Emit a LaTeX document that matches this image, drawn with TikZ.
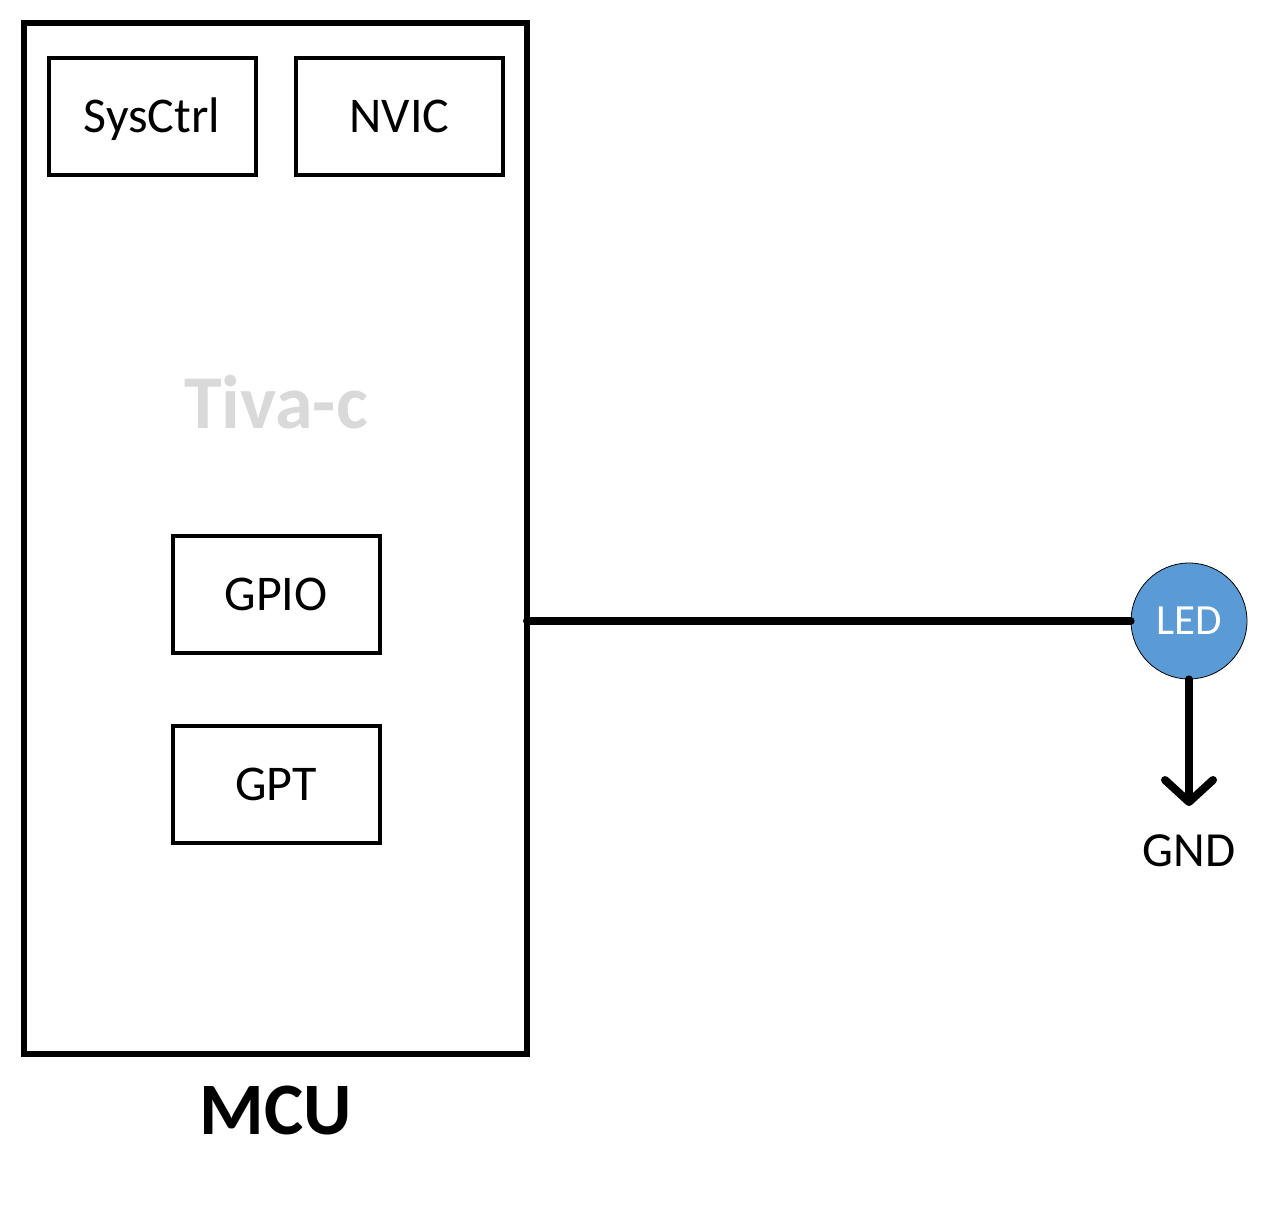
\documentclass[tikz,border=0pt]{standalone}
\usepackage{fontspec}
\setmainfont{Carlito}
\usetikzlibrary{arrows.meta}
\definecolor{ledblue}{HTML}{5B9BD5}
\definecolor{tivagray}{HTML}{D9D9D9}
\tikzset{
  capc/.style={text height=#1*0.632pt, text depth=0pt, inner sep=0pt, font=\fontsize{#1}{#1}\selectfont},
  block/.style={draw, line width=4pt, minimum width=207pt, minimum height=117pt, capc=50},
  wire/.style={line width=8pt, line cap=round},
}
\begin{document}
\begin{tikzpicture}[x=1pt,y=-1pt]
\useasboundingbox (0,0) rectangle (1282,1215);
\node[draw, line width=6pt, minimum width=503pt, minimum height=1031pt, inner sep=0pt] (mcu) at (275.5,538.5) {};
\node[block] (sys) at (152,116.5) {SysCtrl};
\node[block] (nvic) at (399.5,116.5) {NVIC};
\node[capc=76, text=tivagray, font=\bfseries\fontsize{76}{76}\selectfont] (tiva) at (276,404) {Tiva-c};
\node[block] (gpio) at (276,594.5) {GPIO};
\node[block] (gpt) at (276,784.5) {GPT};
\node[capc=74, font=\bfseries\fontsize{74}{74}\selectfont] (mculbl) at (276,1111.5) {MCU};
\node[circle, draw, line width=0.8pt, fill=ledblue, minimum size=116pt, inner sep=0pt, text=white, font=\fontsize{43}{43}\selectfont] (led) at (1189,621) {LED};
\node[capc=49] (gnd) at (1189,851) {GND};
\coordinate (pin) at (527,621);
\coordinate (gndtip) at (1189,806);
\draw[wire] (pin) -- (led.west);
\draw[wire, -{Straight Barb[length=22pt, width=48pt, line width=8pt, round]}] (led.south) -- (gndtip);
\end{tikzpicture}
\end{document}
